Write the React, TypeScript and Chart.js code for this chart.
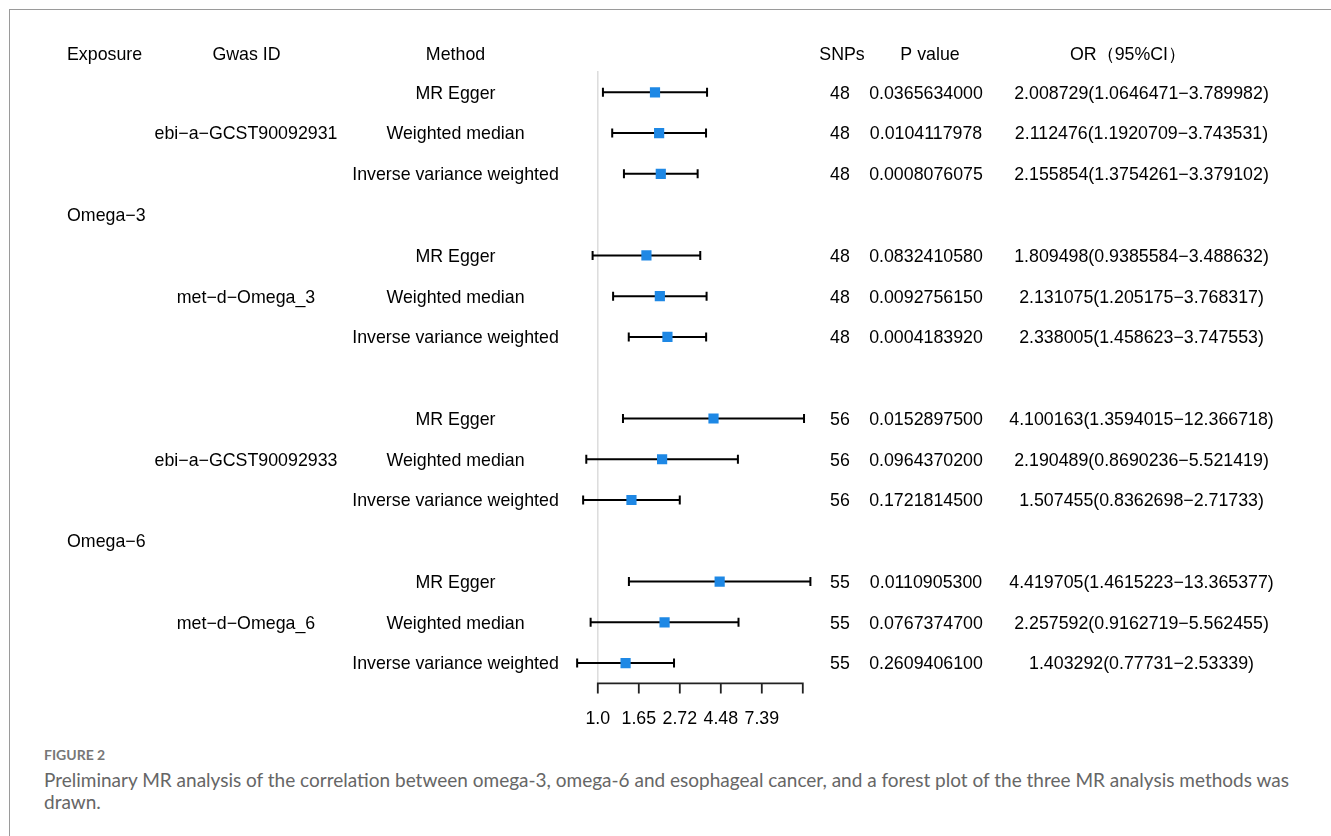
import React, { useEffect, useRef } from "react";
import { Chart, registerables } from "chart.js";

Chart.register(...registerables);

// ---------- data ----------
const headers = ["Exposure", "Gwas ID", "Method", "SNPs", "P value", "OR（95%CI）"];
const exposures = ["Omega−3", "Omega−6"];
const exposureRows = [3, 11];
const gwasIds = ["ebi−a−GCST90092931", "met−d−Omega_3", "ebi−a−GCST90092933", "met−d−Omega_6"];
const gwasRows = [1, 5, 9, 13];
const methods = [
  "MR Egger", "Weighted median", "Inverse variance weighted",
  "MR Egger", "Weighted median", "Inverse variance weighted",
  "MR Egger", "Weighted median", "Inverse variance weighted",
  "MR Egger", "Weighted median", "Inverse variance weighted",
];
const dataRows = [0, 1, 2, 4, 5, 6, 8, 9, 10, 12, 13, 14];
const snps = [48, 48, 48, 48, 48, 48, 56, 56, 56, 55, 55, 55];
const pValues = [
  0.0365634, 0.0104117978, 0.0008076075,
  0.083241058, 0.009275615, 0.000418392,
  0.01528975, 0.09643702, 0.17218145,
  0.01109053, 0.07673747, 0.26094061,
];
const orValues = [
  2.008729, 2.112476, 2.155854,
  1.809498, 2.131075, 2.338005,
  4.100163, 2.190489, 1.507455,
  4.419705, 2.257592, 1.403292,
];
const lowerCI = [
  1.0646471, 1.1920709, 1.3754261,
  0.9385584, 1.205175, 1.458623,
  1.3594015, 0.8690236, 0.8362698,
  1.4615223, 0.9162719, 0.77731,
];
const upperCI = [
  3.789982, 3.743531, 3.379102,
  3.488632, 3.768317, 3.747553,
  12.366718, 5.521419, 2.71733,
  13.365377, 5.562455, 2.53339,
];
// axis ticks on the log(OR) scale
const tickLogValues = [0, 0.5, 1, 1.5, 2, 2.5];
const tickLabels = ["1.0", "1.65", "2.72", "4.48", "7.39", ""];

const FONT_PX = 17.8;
const FONT = `${FONT_PX}px "Liberation Sans", Arial, Helvetica, sans-serif`;
const CAP = 0.716 * FONT_PX * 0.5; // offset so glyphs are visually centred on the row

export default function App() {
  const canvasRef = useRef<HTMLCanvasElement | null>(null);

  useEffect(() => {
    document.body.style.margin = "0";
    const canvas = canvasRef.current;
    if (!canvas) return;

    const forestPlugin = {
      id: "forest",
      beforeDatasetsDraw(chart: any) {
        const ctx = chart.ctx;
        const xs = chart.scales.x;
        const ys = chart.scales.y;
        ctx.save();
        // reference line at OR = 1
        ctx.strokeStyle = "#dcdcdc";
        ctx.lineWidth = 1.5;
        ctx.beginPath();
        ctx.moveTo(xs.getPixelForValue(0), ys.getPixelForValue(-0.52));
        ctx.lineTo(xs.getPixelForValue(0), ys.getPixelForValue(14.5));
        ctx.stroke();
        // error bars
        ctx.strokeStyle = "#000";
        ctx.lineWidth = 2;
        dataRows.forEach((r, i) => {
          const y = ys.getPixelForValue(r);
          const x1 = xs.getPixelForValue(Math.log(lowerCI[i]));
          const x2 = xs.getPixelForValue(Math.log(upperCI[i]));
          ctx.beginPath();
          ctx.moveTo(x1, y);
          ctx.lineTo(x2, y);
          ctx.moveTo(x1, y - 4.5);
          ctx.lineTo(x1, y + 4.5);
          ctx.moveTo(x2, y - 4.5);
          ctx.lineTo(x2, y + 4.5);
          ctx.stroke();
        });
        // axis
        const ay = ys.getPixelForValue(14.5);
        ctx.strokeStyle = "#222";
        ctx.lineWidth = 1.8;
        ctx.beginPath();
        ctx.moveTo(xs.getPixelForValue(tickLogValues[0]) - 0.9, ay);
        ctx.lineTo(xs.getPixelForValue(tickLogValues[tickLogValues.length - 1]) + 0.9, ay);
        tickLogValues.forEach((t) => {
          const tx = xs.getPixelForValue(t);
          ctx.moveTo(tx, ay);
          ctx.lineTo(tx, ay + 10);
        });
        ctx.stroke();
        ctx.fillStyle = "#000";
        ctx.font = FONT;
        ctx.textAlign = "center";
        ctx.textBaseline = "alphabetic";
        const ly = ys.getPixelForValue(15.33) + CAP;
        tickLogValues.forEach((t, i) => {
          if (tickLabels[i]) ctx.fillText(tickLabels[i], xs.getPixelForValue(t), ly);
        });
        ctx.restore();
      },
      afterDraw(chart: any) {
        const ctx = chart.ctx;
        const ys = chart.scales.y;
        ctx.save();
        ctx.fillStyle = "#000";
        ctx.font = FONT;
        ctx.textBaseline = "alphabetic";
        const rowY = (r: number) => ys.getPixelForValue(r) + CAP;
        const headerX = [67, 246.5, 455.5, 842, 930, 1128];
        headers.forEach((h, i) => {
          ctx.textAlign = i === 0 ? "left" : "center";
          ctx.fillText(h, headerX[i], rowY(-0.96));
        });
        ctx.textAlign = "left";
        exposures.forEach((e, i) => ctx.fillText(e, 67, rowY(exposureRows[i])));
        ctx.textAlign = "center";
        gwasIds.forEach((g, i) => ctx.fillText(g, 246, rowY(gwasRows[i])));
        dataRows.forEach((r, i) => {
          const y = rowY(r);
          ctx.fillText(methods[i], 455.5, y);
          ctx.fillText(String(snps[i]), 840, y);
          ctx.fillText(pValues[i].toFixed(10), 926, y);
          ctx.fillText(`${orValues[i]}(${lowerCI[i]}−${upperCI[i]})`, 1141.5, y);
        });
        ctx.restore();
      },
    };

    const chart = new Chart(canvas, {
      type: "scatter",
      data: {
        datasets: [
          {
            data: dataRows.map((r, i) => ({ x: Math.log(orValues[i]), y: r })),
            pointStyle: "rect",
            radius: 7.2,
            hoverRadius: 7.2,
            backgroundColor: "#1E88E5",
            borderColor: "#1E88E5",
            borderWidth: 0,
          },
        ],
      },
      options: {
        animation: false,
        responsive: false,
        events: [],
        layout: { padding: { left: 560, right: 491, top: 51.55, bottom: 36.15 } },
        plugins: { legend: { display: false }, tooltip: { enabled: false } },
        scales: {
          x: {
            type: "linear",
            display: false,
            bounds: "data",
            min: (560 - 597.8) / 82,
            max: (840 - 597.8) / 82,
          },
          y: { type: "linear", display: false, bounds: "data", min: -1, max: 15, reverse: true },
        },
      },
      plugins: [forestPlugin],
    });
    return () => chart.destroy();
  }, []);

  return (
    <div
      style={{
        position: "absolute",
        left: 0,
        top: 0,
        width: 1331,
        height: 836,
        background: "#fff",
        overflow: "hidden",
      }}
    >
      <div style={{ position: "absolute", left: 9, top: 9, right: 0, height: 1, background: "#9a9a9a" }} />
      <div style={{ position: "absolute", left: 9, top: 9, bottom: 0, width: 1, background: "#9a9a9a" }} />
      <canvas
        ref={canvasRef}
        width={1331}
        height={740}
        style={{ position: "absolute", left: 0, top: 0, width: 1331, height: 740 }}
      />
      <div
        style={{
          position: "absolute",
          left: 44,
          top: 746,
          fontFamily: "Lato, 'Open Sans', sans-serif",
          fontSize: 14,
          fontWeight: 700,
          color: "#777",
          lineHeight: "18px",
          whiteSpace: "nowrap",
        }}
      >
        FIGURE 2
      </div>
      <div
        style={{
          position: "absolute",
          left: 44,
          top: 769,
          fontFamily: "Lato, 'Open Sans', sans-serif",
          fontSize: 19,
          color: "#666",
          lineHeight: "22px",
          whiteSpace: "nowrap",
        }}
      >
        Preliminary MR analysis of the correlation between omega-3, omega-6 and esophageal cancer, and a forest plot of the three MR analysis methods was
        <br />
        drawn.
      </div>
    </div>
  );
}
